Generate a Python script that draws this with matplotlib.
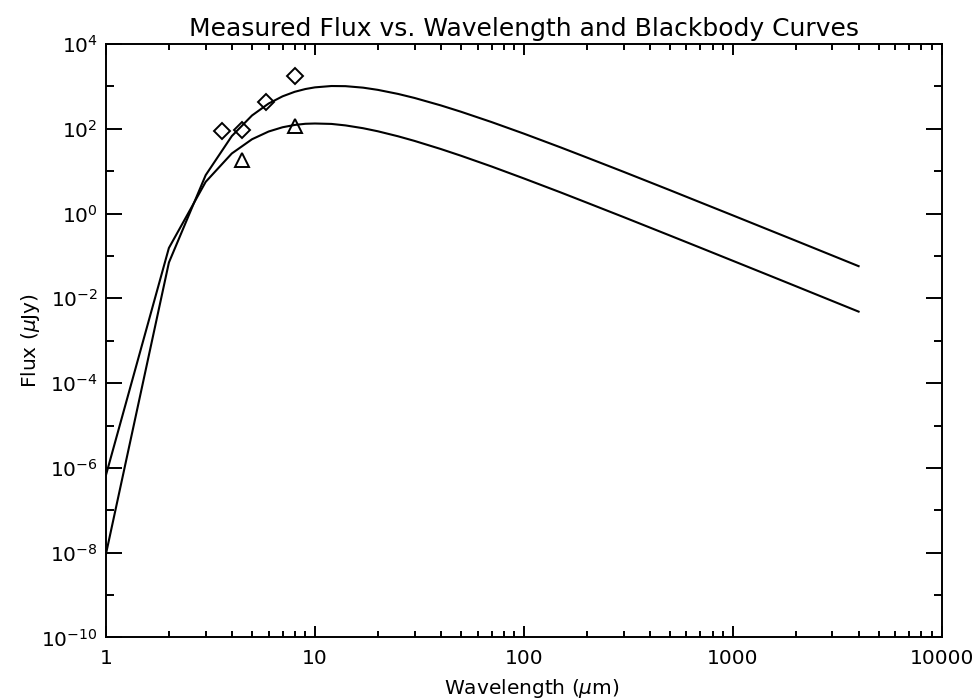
import matplotlib
matplotlib.use("Agg")
import matplotlib.pyplot as plt
from matplotlib.ticker import FixedLocator, FixedFormatter, LogLocator, NullFormatter

# wavelength grid (um) and the two blackbody curves (uJy)
wavelength = [1, 2, 3, 4, 5, 6, 7, 8, 9, 10, 12, 14, 17, 20, 25, 30, 40, 50, 70,
              100, 150, 200, 300, 500, 700, 1000, 1500, 2000, 3000, 4000]
flux_cool = [9.4e-9, 0.0698, 8.05, 67.1, 206, 393, 582, 744, 865, 947, 1019, 1011,
             932, 827, 663, 532, 356, 252, 144, 76.7, 36.3, 21.0, 9.65, 3.56,
             1.83, 0.906, 0.405, 0.229, 0.102, 0.0574]
flux_warm = [6.8e-7, 0.154, 5.59, 26.1, 56.6, 86.0, 108.5, 123, 131, 133, 130, 120,
             103, 87.2, 66.4, 51.6, 33.3, 23.1, 12.9, 6.73, 3.15, 1.81, 0.826,
             0.303, 0.156, 0.0769, 0.0344, 0.0194, 0.00863, 0.00486]

# measured points
meas_wl = [3.6, 4.5, 5.8, 8.0]
meas_flux = [88, 93, 425, 1750]
meas2_wl = [4.5, 8.0]
meas2_flux = [18.5, 115]

x_ticks = [1, 10, 100, 1000, 10000]
x_labels = ["1", "10", "100", "1000", "10000"]
y_exps = [-10, -8, -6, -4, -2, 0, 2, 4]
y_minor_exps = [-9, -7, -5, -3, -1, 1, 3]

plt.rcParams["font.family"] = ["DejaVu Sans"]

fig = plt.figure(figsize=(9.76, 6.99), dpi=100)
ax = fig.add_axes([0.1086, 0.088, 0.8563, 0.8491])

ax.plot(wavelength, flux_cool, color="black", lw=1.5)
ax.plot(wavelength, flux_warm, color="black", lw=1.5)
ax.plot(meas_wl, meas_flux, ls="none", marker="D", ms=8, mfc="none",
        mec="black", mew=1.4)
ax.plot(meas2_wl, meas2_flux, ls="none", marker="^", ms=10.5, mfc="none",
        mec="black", mew=1.4)

ax.set_xscale("log")
ax.set_yscale("log")
ax.set_xlim(1, 10000)
ax.set_ylim(1e-10, 1e4)

ax.xaxis.set_major_locator(FixedLocator(x_ticks))
ax.xaxis.set_major_formatter(FixedFormatter(x_labels))
ax.xaxis.set_minor_locator(LogLocator(base=10, subs=range(2, 10), numticks=20))
ax.xaxis.set_minor_formatter(NullFormatter())

ax.yaxis.set_major_locator(FixedLocator([10.0 ** e for e in y_exps]))
ax.yaxis.set_major_formatter(FixedFormatter([r"$10^{%d}$" % e for e in y_exps]))
ax.yaxis.set_minor_locator(FixedLocator([10.0 ** e for e in y_minor_exps]))
ax.yaxis.set_minor_formatter(NullFormatter())

ax.tick_params(axis="both", which="both", direction="in", top=True, right=True,
               width=1.4, colors="black", labelsize=14.5)
ax.tick_params(axis="x", which="major", length=8, pad=8)
ax.tick_params(axis="x", which="minor", length=4.3)
ax.tick_params(axis="y", which="major", length=11.5, pad=6)
ax.tick_params(axis="y", which="minor", length=5.8)
for sp in ax.spines.values():
    sp.set_linewidth(1.4)

ax.set_title("Measured Flux vs. Wavelength and Blackbody Curves", fontsize=18, pad=6)
ax.set_xlabel(r"Wavelength ($\mu$m)", fontsize=14.5)
ax.set_ylabel(r"Flux ($\mu$Jy)", fontsize=14.5)
ax.xaxis.set_label_coords(0.51, -0.066)
ax.yaxis.set_label_coords(-0.077, 0.5)

fig.savefig("out.png", dpi=100)
